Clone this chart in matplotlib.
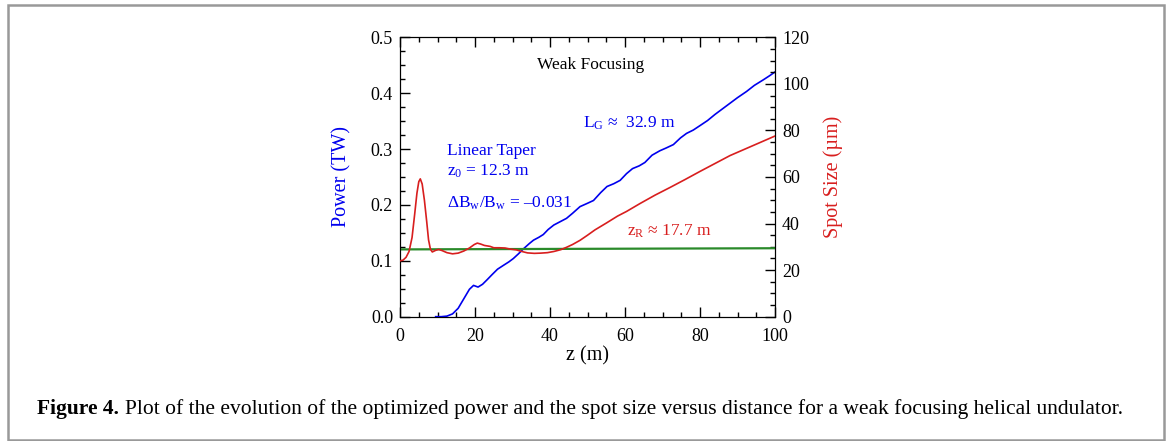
import numpy as np
import matplotlib
matplotlib.use("Agg")
import matplotlib.pyplot as plt
from matplotlib.patches import Rectangle
from matplotlib.ticker import MultipleLocator

plt.rcParams['font.family'] = ['Liberation Serif', 'DejaVu Serif']
plt.rcParams['mathtext.fontset'] = 'custom'
plt.rcParams['mathtext.rm'] = 'Liberation Serif'
plt.rcParams['mathtext.it'] = 'Liberation Serif:italic'

# power (TW) vs z (m)
z_power = [9.5, 11, 12.5, 14, 15.5, 17, 18.5, 19.6, 20.8, 22, 23.2, 24.5, 26, 27.6,
           29, 30.2, 31.5, 33, 34.5, 35.6, 37, 38.2, 39.5, 41, 42.7, 44.4, 46, 48,
           50, 51.6, 53.5, 55.2, 57, 58.7, 60.4, 62, 63.8, 65.3, 67.2, 69.3, 71,
           72.9, 74.8, 76.4, 78.2, 80, 82, 84, 86, 88, 90, 92.4, 94.5, 96.9, 98.5, 100]
power = [0.0, 0.0, 0.001, 0.005, 0.015, 0.032, 0.049, 0.056, 0.053, 0.058, 0.066,
         0.075, 0.085, 0.092, 0.098, 0.104, 0.112, 0.122, 0.131, 0.137, 0.142,
         0.147, 0.156, 0.164, 0.170, 0.176, 0.185, 0.197, 0.203, 0.208, 0.222,
         0.233, 0.238, 0.244, 0.256, 0.265, 0.270, 0.276, 0.289, 0.297, 0.302,
         0.308, 0.320, 0.328, 0.334, 0.342, 0.351, 0.362, 0.372, 0.382, 0.392,
         0.403, 0.414, 0.424, 0.431, 0.438]

# spot size (um) vs z (m)
z_spot = [0, 0.8, 1.6, 2.4, 3.2, 3.9, 4.5, 5.0, 5.4, 5.9, 6.5, 7.1, 7.6, 8.1, 8.6,
          9.5, 10.3, 11.2, 12.5, 14, 15.5, 17, 18.5, 19.8, 20.6, 21.5, 22.5, 24,
          25, 26.5, 28, 29.5, 31, 32.5, 34, 35.8, 37.5, 39.3, 41, 42.9, 44.4, 46,
          48, 50, 52, 55, 58, 60.4, 64, 68, 72, 76, 80, 84, 88, 92, 96, 100]
spot = [24.0, 24.3, 25.5, 28, 34, 44, 53, 58, 59.2, 57, 50, 41, 33, 29, 27.8,
        28.5, 28.9, 28.4, 27.5, 27.0, 27.3, 28.2, 29.5, 31.0, 31.6, 31.2, 30.6,
        30.2, 29.6, 29.6, 29.5, 29.0, 28.7, 28.0, 27.4, 27.2, 27.3, 27.5, 28.0,
        28.8, 29.8, 31.0, 32.8, 35.0, 37.3, 40.2, 43.2, 45.2, 48.6, 52.2, 55.5,
        58.9, 62.4, 65.8, 69.2, 72.0, 74.8, 77.6]

# reference level (um)
z_ref = [0, 100]
spot_ref = [28.9, 29.4]

BLUE = '#0000ee'
RED = '#d81e1e'

fig = plt.figure(figsize=(11.67, 4.41), dpi=100)
ax = fig.add_axes([0.3428, 0.2819, 0.3213, 0.6335])
ax2 = ax.twinx()

ax.plot(z_power, power, color=BLUE, lw=1.2, zorder=3)
ax2.plot(z_ref, spot_ref, color='#2a8a2a', lw=1.6, zorder=2)
ax2.plot(z_spot, spot, color=RED, lw=1.2, zorder=3)

ax.set_xlim(0, 100)
ax.set_ylim(0, 0.5)
ax2.set_ylim(0, 120)

ax.xaxis.set_major_locator(MultipleLocator(20))
ax.xaxis.set_minor_locator(MultipleLocator(5))
ax.yaxis.set_major_locator(MultipleLocator(0.1))
ax.yaxis.set_minor_locator(MultipleLocator(0.025))
ax2.yaxis.set_major_locator(MultipleLocator(20))
ax2.yaxis.set_minor_locator(MultipleLocator(5))
ax.yaxis.set_major_formatter(plt.FormatStrFormatter('%.1f'))

for a in (ax, ax2):
    a.tick_params(which='both', direction='in', labelsize=13, width=1)
    a.tick_params(which='major', length=7)
    a.tick_params(which='minor', length=3.6)
ax.tick_params(which='both', top=True)
ax.tick_params(axis='x', pad=8)
ax.tick_params(axis='y', pad=5)
ax2.tick_params(axis='y', pad=5)

ax.set_xlabel('z (m)', fontsize=14.5, labelpad=1)
ax.set_ylabel('Power (TW)', fontsize=14.5, color=BLUE, labelpad=14)
ax2.set_ylabel('Spot Size (\u00b5m)', fontsize=14.5, color=RED, labelpad=10)

fs = 12.5
ax.text(50.7, 0.443, 'Weak Focusing', fontsize=fs, ha='center', va='baseline')
ax.text(48.8, 0.338, 'L$_\\mathrm{G}$ \u2248  32.9 m', fontsize=fs,
        color=BLUE, va='baseline')
ax.text(12.4, 0.289, 'Linear Taper', fontsize=fs, color=BLUE, va='baseline')
ax.text(12.4, 0.252, 'z$_\\mathrm{0}$ = 12.3 m', fontsize=fs, color=BLUE,
        va='baseline')
ax.text(12.4, 0.196, '\u0394B$_\\mathrm{w}$/B$_\\mathrm{w}$ = \u20130.031',
        fontsize=fs, color=BLUE, va='baseline')
ax.text(60.4, 0.146, 'z$_\\mathrm{R}$ \u2248 17.7 m', fontsize=fs,
        color=RED, va='baseline')

# caption
cap_y = 1 - 414 / 441
bold = fig.text(37 / 1167, cap_y, 'Figure 4.', fontsize=15.5, fontweight='bold',
                va='baseline')
fig.canvas.draw()
bb = bold.get_window_extent(renderer=fig.canvas.get_renderer())
fig.text((bb.x1 + 6) / 1167, cap_y,
         'Plot of the evolution of the optimized power and the spot size versus '
         'distance for a weak focusing helical undulator.',
         fontsize=15.5, va='baseline')

# frame around figure
fig.patches.append(Rectangle((8 / 1167, 1 / 441), 1156 / 1167, 435 / 441,
                             transform=fig.transFigure, fill=False,
                             edgecolor='#999999', lw=1.8))

fig.savefig('out.png', dpi=100)
